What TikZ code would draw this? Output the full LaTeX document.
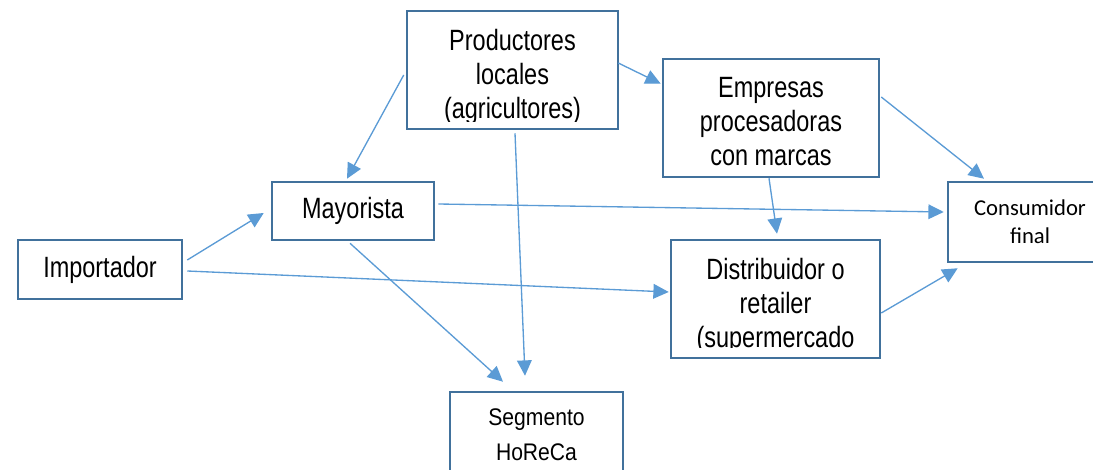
\documentclass[tikz,border=0pt]{standalone}
\usepackage{fontspec}
\setmainfont[FakeStretch=0.8]{Liberation Sans}
\newfontfamily\segfont[FakeStretch=0.88]{Liberation Sans}
\newfontfamily\consfont{Carlito}
\usetikzlibrary{arrows.meta, calc}
\definecolor{boxblue}{HTML}{41719C}
\definecolor{arrowblue}{HTML}{5B9BD5}

\begin{document}
\begin{tikzpicture}[
    x=0.75pt, y=-0.75pt,
    box/.style={rectangle, draw=boxblue, line width=1.9pt, fill=white, align=center, font=\fontsize{22pt}{25.5pt}\selectfont},
    boxtext/.style={align=center, inner sep=0pt, font=\fontsize{22pt}{25.5pt}\selectfont},
    arrow/.style={-{Triangle[length=11.5pt, width=11pt]}, line width=1pt, arrowblue}
]
\useasboundingbox (0,0) rectangle (1093,470);

% Importador
\node[box, minimum width=123pt, minimum height=44.25pt] (imp) at (100,269.5) {Importador};

% Mayorista
\node[box, minimum width=121.5pt, minimum height=43.5pt] (may) at (353,211) {Mayorista};

% Productores locales (text cut by the box)
\node[box, minimum width=158.25pt, minimum height=88.5pt] (prod) at (512.5,70) {};
\begin{scope}
    \clip (prod.north west) rectangle ($(prod.south east)+(0,-9)$);
    \node[boxtext, anchor=north] (prodtext) at (512.5,28.6) {Productores\\locales\\(agricultores)};
\end{scope}

% Empresas procesadoras
\node[box, minimum width=162pt, minimum height=88.5pt, text height=72pt] (emp) at (771,118) {Empresas\\procesadoras\\con marcas};

% Consumidor final
\node[box, minimum width=123pt, minimum height=60pt, font=\consfont\fontsize{17pt}{21pt}\selectfont] (cons) at (1030,222) {Consumidor\\final};

% Distribuidor o retailer (text cut by the box)
\node[box, minimum width=156.75pt, minimum height=88.5pt] (dist) at (775.5,299) {};
\begin{scope}
    \clip (dist.north west) rectangle ($(dist.south east)+(0,-12)$);
    \node[boxtext, anchor=north] (disttext) at (775.5,257.6) {Distribuidor o\\retailer\\(supermercado};
\end{scope}

% Segmento HoReCa
\node[box, minimum width=129.75pt, minimum height=64.5pt, font=\segfont\fontsize{18pt}{26.25pt}\selectfont] (seg) at (536.5,435) {Segmento\\HoReCa};

% Flows
\draw[arrow] ($(imp.east)+(4,-9.5)$) -- ($(may.west)+(-7,2)$);
\draw[arrow] ($(imp.east)+(4,1.5)$) -- ($(dist.west)+(-1,-7)$);
\draw[arrow] ($(prod.west)+(-2,5)$) -- ($(may.north)+(-6,-2)$);
\draw[arrow] ($(prod.east)+(-1,-7)$) -- ($(emp.north west)+(-1,26)$);
\draw[arrow] ($(prod.south)+(2.5,3)$) -- ($(seg.north)+(-11.5,-15)$);
\draw[arrow] ($(may.south)+(-3,2)$) -- ($(seg.north)+(-33.5,-9)$);
\draw[arrow] ($(may.east)+(3,-7)$) -- ($(cons.west)+(-3,-10)$);
\draw[arrow] ($(emp.south)+(-2,0)$) -- ($(dist.north)+(1.5,-5)$);
\draw[arrow] ($(emp.east)+(1,-21)$) -- ($(cons.north)+(-46,-2)$);
\draw[arrow] ($(dist.east)+(0,14)$) -- ($(cons.south west)+(11,5)$);

\end{tikzpicture}
\end{document}
